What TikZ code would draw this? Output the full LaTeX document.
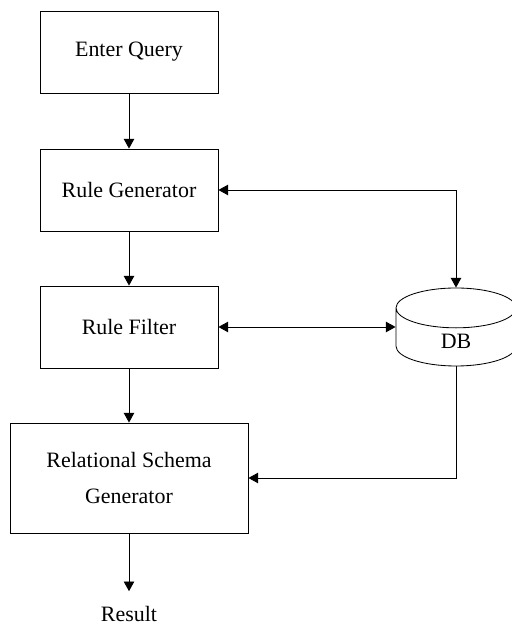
\documentclass[tikz,border=0pt]{standalone}
\usepackage{fontspec}
\setmainfont{Liberation Serif}
\usetikzlibrary{shapes.geometric,arrows.meta}

\tikzset{
	block/.style={draw, line width=0.6pt, minimum width=4.45cm, minimum height=2.05cm},
	store/.style={draw, line width=0.6pt, cylinder, shape border rotate=90, aspect=1,
		minimum width=3cm, minimum height=1.95cm, anchor=shape center},
}

\begin{document}
\begin{tikzpicture}[>={Triangle[length=2.4mm,width=2.6mm]}, line width=0.6pt,
	font=\fontsize{15.6}{26}\selectfont]

	\useasboundingbox (0,0) rectangle (12.8,15.65);

	% the pipeline, top to bottom
	\node[block] (eq)  at (3.225,14.35) {Enter Query};
	\node[block] (rg)  at (3.225,10.9)  {Rule Generator};
	\node[block] (rf)  at (3.225,7.475) {Rule Filter};
	\node[block, minimum width=5.95cm, minimum height=2.75cm, align=center]
		(rsg) at (3.225,3.7) {Relational Schema\\Generator};
	\node (res) at (3.225,0.3) {Result};

	% the database
	\node[store] (db) at (11.4,7.475) {DB};

	\draw[->] (eq) -- (rg);
	\draw[->] (rg) -- (rf);
	\draw[->] (rf) -- (rsg);
	\draw[->, shorten >=0.25cm] (rsg) -- (res);

	\draw[<->] (rg.east) -| (db.north);
	\draw[<->] (rf.east) -- (rf.east -| db.west);
	\draw[->]  (db.south) |- (rsg.east);

\end{tikzpicture}
\end{document}
